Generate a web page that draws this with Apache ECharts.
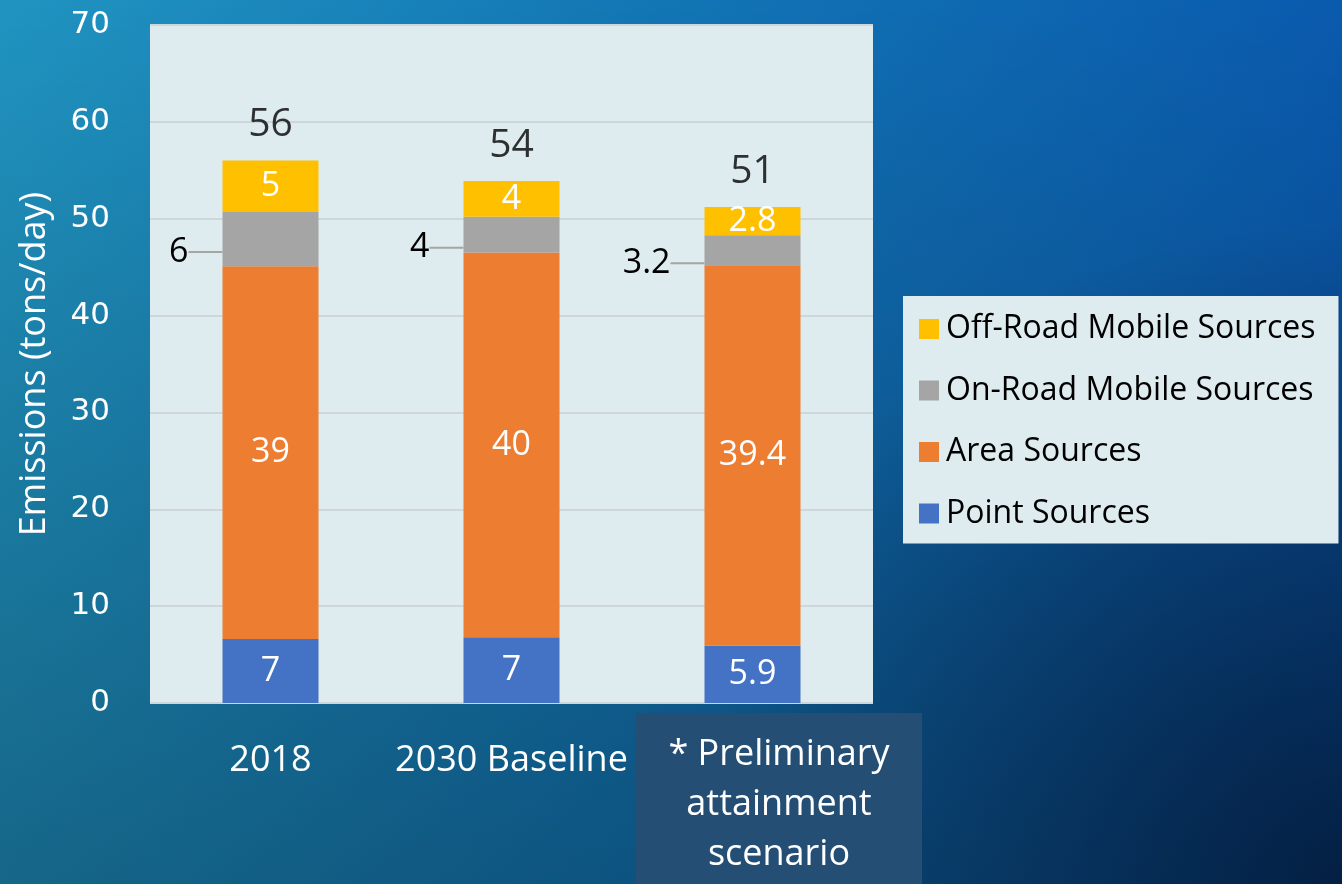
<!DOCTYPE html>
<html>
<head>
<meta charset="utf-8">
<script src="https://cdn.jsdelivr.net/npm/echarts@6/dist/echarts.min.js"></script>
<style>
  html, body { margin: 0; padding: 0; }
  #main { width: 1342px; height: 884px; }
</style>
</head>
<body>
<div id="main"></div>
<script>
// categories and values
const categories = ['2018', '2030 Baseline', '* Preliminary attainment scenario'];
const pointSources = [6.6, 6.8, 5.9];
const areaSources = [38.5, 39.7, 39.3];
const onRoad = [5.6, 3.7, 3.1];
const offRoad = [5.3, 3.7, 2.9];
const totals = [56, 53.9, 51.2];

// the labels the slide prints
const pointLabels = ['7', '7', '5.9'];
const areaLabels = ['39', '40', '39.4'];
const onRoadLabels = ['6', '4', '3.2'];
const offRoadLabels = ['5', '4', '2.8'];
const totalLabels = ['56', '54', '51'];
const yTicks = [0, 10, 20, 30, 40, 50, 60, 70];

const font = 'Open Sans';
const chart = echarts.init(document.getElementById('main'));

function inside(labels) {
    return {
        show: true,
        position: 'inside',
        color: '#fff',
        fontSize: 34,
        fontFamily: font,
        formatter: p => labels[p.dataIndex]
    };
}

const option = {
    backgroundColor: new echarts.graphic.LinearGradient(0, 0, 1, 0, [
        { offset: 0, color: '#2094c1' },
        { offset: 0.5, color: '#1275b4' },
        { offset: 1, color: '#0a5aae' }
    ]),
    animation: false,
    grid: {
        left: 150, right: 469, top: 25, bottom: 181,
        show: true, backgroundColor: '#deebef', borderWidth: 0
    },
    legend: {
        orient: 'vertical',
        left: 903, top: 296,
        padding: [17, 23, 14, 16],
        backgroundColor: '#deebef',
        itemWidth: 20, itemHeight: 20,
        itemGap: 29.5,
        icon: 'rect',
        data: ['Off-Road Mobile Sources', 'On-Road Mobile Sources', 'Area Sources', 'Point Sources'],
        textStyle: { fontSize: 32, fontFamily: font, color: '#000', padding: [0, 0, 0, 2] }
    },
    xAxis: {
        type: 'category',
        data: categories,
        axisLine: { show: false },
        axisTick: { show: false },
        axisLabel: {
            interval: 0,
            color: '#fff', fontSize: 36, fontFamily: font, margin: 40,
            formatter: (v, i) => i === 2 ? '' : v
        }
    },
    yAxis: {
        type: 'value',
        min: yTicks[0], max: yTicks[yTicks.length - 1], interval: 10,
        name: 'Emissions (tons/day)',
        nameLocation: 'middle',
        nameGap: 97,
        nameTextStyle: { color: '#fff', fontSize: 36, fontFamily: font },
        axisLine: { show: false },
        axisTick: { show: false },
        axisLabel: { color: '#fff', fontSize: 31, fontFamily: 'DejaVu Sans', margin: 40 },
        splitLine: { lineStyle: { color: '#cfd6d9', width: 2 } }
    },
    series: [
        {
            name: 'Point Sources', type: 'bar', stack: 'e', barWidth: 96,
            itemStyle: { color: '#4472c4' },
            label: inside(pointLabels),
            data: pointSources
        },
        {
            name: 'Area Sources', type: 'bar', stack: 'e',
            itemStyle: { color: '#ed7d31' },
            label: inside(areaLabels),
            data: areaSources
        },
        {
            name: 'On-Road Mobile Sources', type: 'bar', stack: 'e',
            itemStyle: { color: '#a5a5a5' },
            label: {
                show: true, position: 'left', distance: 34,
                color: '#000', fontSize: 34, fontFamily: font,
                formatter: p => onRoadLabels[p.dataIndex]
            },
            labelLayout: { dy: 13 },
            labelLine: { show: true, lineStyle: { color: '#a5a5a5', width: 2 } },
            data: onRoad
        },
        {
            name: 'Off-Road Mobile Sources', type: 'bar', stack: 'e',
            itemStyle: { color: '#ffc000' },
            label: inside(offRoadLabels),
            data: offRoad
        },
        {
            name: 'Total', type: 'scatter', symbolSize: 0,
            label: {
                show: true, position: 'top', distance: 16,
                color: '#000', fontSize: 39, fontFamily: font,
                formatter: p => totalLabels[p.dataIndex]
            },
            data: totals
        }
    ],
    graphic: [
        {
            type: 'rect', left: 0, top: 0, z: -10, silent: true,
            shape: { width: 1342, height: 884 },
            style: {
                fill: new echarts.graphic.LinearGradient(0, 0, 0, 1, [
                    { offset: 0, color: 'rgba(0,0,0,0)' },
                    { offset: 1, color: 'rgba(0,10,20,0.33)' }
                ])
            }
        },
        {
            type: 'rect', left: 0, top: 0, z: -9, silent: true,
            shape: { width: 1342, height: 884 },
            style: {
                fill: new echarts.graphic.RadialGradient(1, 1, 0.75, [
                    { offset: 0, color: 'rgba(2,10,30,0.6)' },
                    { offset: 1, color: 'rgba(2,10,30,0)' }
                ])
            }
        },
        {
            type: 'rect', left: 636, top: 713, z: 10,
            shape: { width: 286, height: 171 },
            style: { fill: '#244e74' }
        },
        {
            type: 'text', x: 779, y: 730, z: 11,
            style: {
                text: '* Preliminary\nattainment\nscenario',
                fill: '#fff', font: '36px "' + font + '"',
                align: 'center', verticalAlign: 'top', lineHeight: 50
            }
        }
    ]
};

chart.setOption(option);
</script>
</body>
</html>
